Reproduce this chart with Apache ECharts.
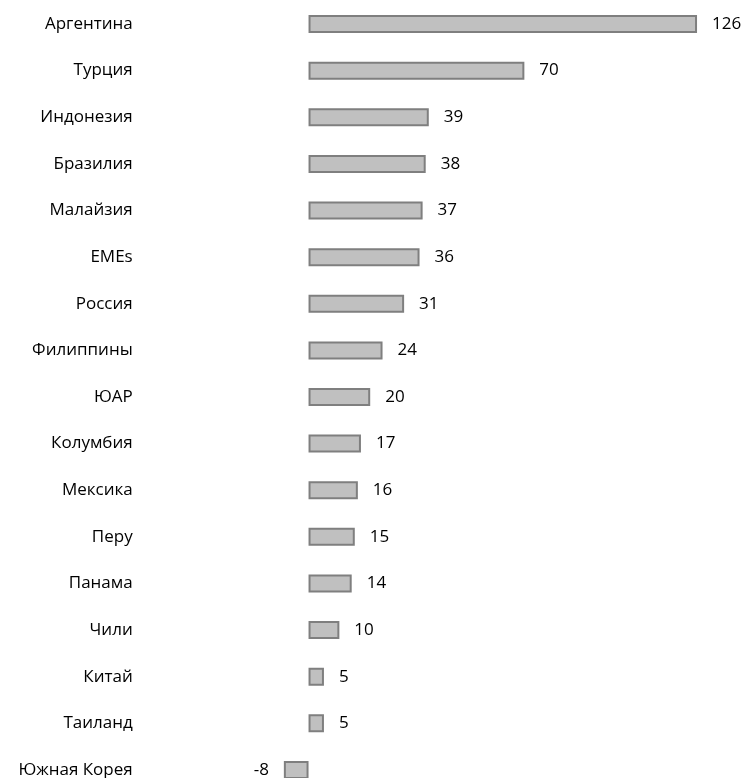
<!DOCTYPE html>
<html>
<head>
<meta charset="utf-8">
<script src="https://cdn.jsdelivr.net/npm/echarts@6/dist/echarts.min.js"></script>
<style>
  html, body { margin: 0; padding: 0; background: #ffffff; overflow: hidden; }
  #chart { width: 747px; height: 794px; }
</style>
</head>
<body>
<div id="chart"></div>
<script>
// Countries, top to bottom
const countries = [
  'Аргентина', 'Турция', 'Индонезия', 'Бразилия', 'Малайзия', 'EMEs',
  'Россия', 'Филиппины', 'ЮАР', 'Колумбия', 'Мексика', 'Перу',
  'Панама', 'Чили', 'Китай', 'Таиланд', 'Южная Корея'
];
const values = [126, 70, 39, 38, 37, 36, 31, 24, 20, 17, 16, 15, 14, 10, 5, 5, -8];

const FONT = 'Open Sans';
const chart = echarts.init(document.getElementById('chart'), null, { renderer: 'canvas' });

chart.setOption({
  animation: false,
  backgroundColor: '#ffffff',
  grid: { left: 277.7, right: 6.8, top: 0.7, bottom: 0.7, containLabel: false },
  xAxis: {
    type: 'value', min: -10, max: 140,
    show: false
  },
  yAxis: {
    type: 'category',
    data: countries,
    inverse: true,
    axisLine: { show: false },
    axisTick: { show: false },
    splitLine: { show: false },
    axisLabel: {
      margin: 145,
      color: '#000000',
      fontFamily: FONT,
      fontSize: 17
    }
  },
  series: [{
    type: 'bar',
    barWidth: 18,
    data: values.map(v => ({
      value: v,
      label: { position: v < 0 ? 'left' : 'right' }
    })),
    itemStyle: {
      color: '#c0c0c0',
      borderColor: '#7f7f7f',
      borderWidth: 2
    },
    label: {
      show: true,
      distance: 15,
      color: '#000000',
      fontFamily: FONT,
      fontSize: 17
    }
  }]
});
</script>
</body>
</html>
